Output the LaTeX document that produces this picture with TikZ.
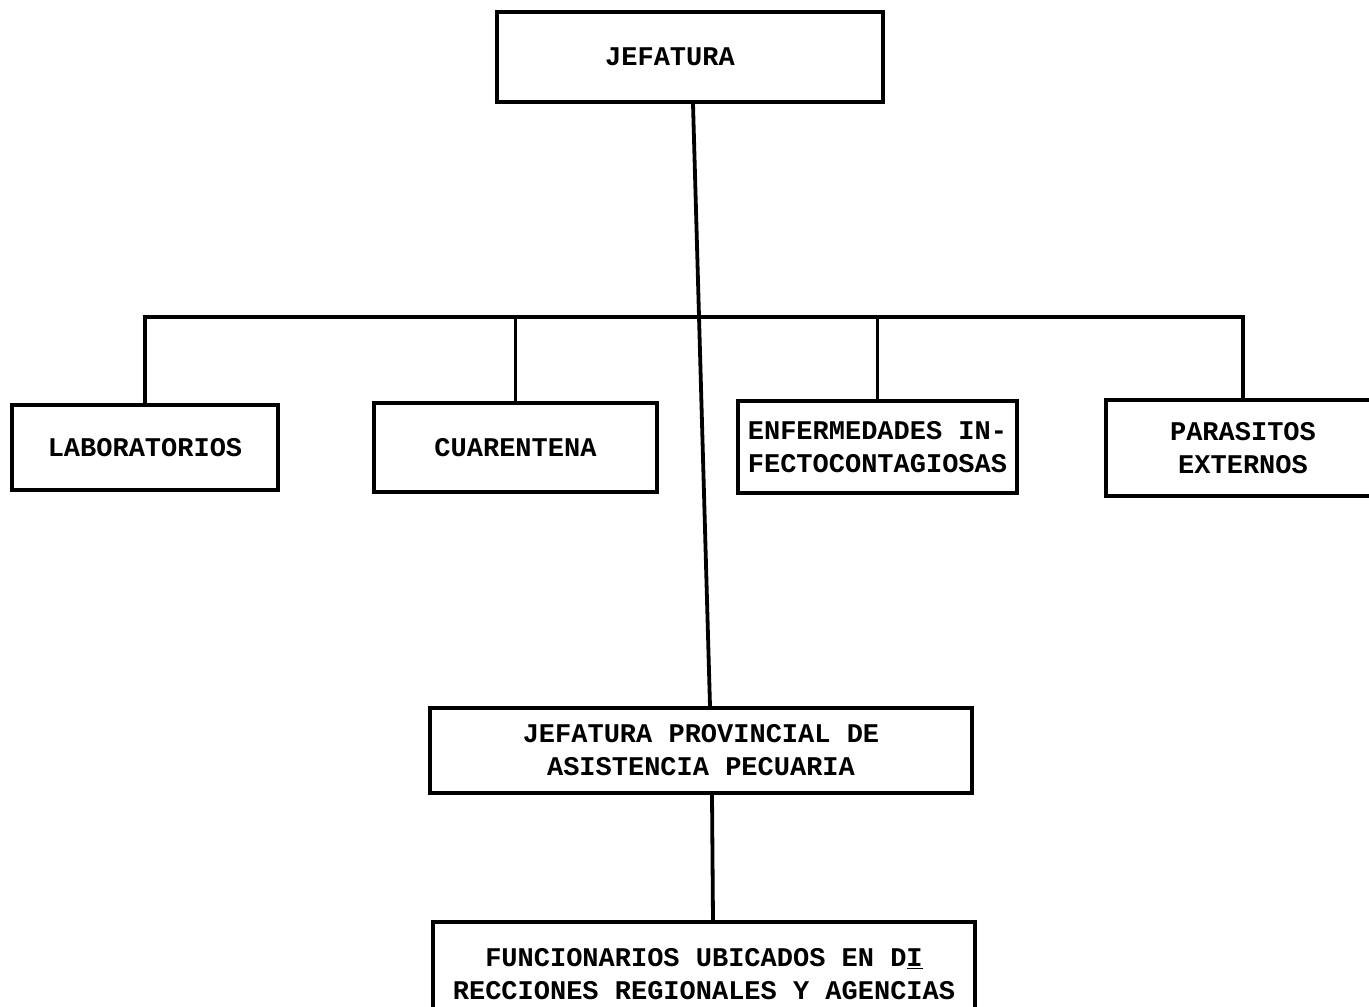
\documentclass[tikz,border=0pt]{standalone}
\usepackage{fontspec}
\setmonofont{Liberation Mono}
\begin{document}
\begin{tikzpicture}[x=1pt,y=-1pt,
  box/.style={draw=black,line width=3.5pt,rectangle,inner sep=0pt,align=center,
    font=\ttfamily\bfseries\fontsize{27}{33}\selectfont},
  link/.style={draw=black,line width=3.8pt}]
\useasboundingbox (0,0) rectangle (1369,1007);
\node[box,minimum width=386pt,minimum height=90pt] (jef) at (690,57) {\hspace*{-40pt}JEFATURA};
\node[box,minimum width=266pt,minimum height=85pt] (lab) at (145,447.5) {LABORATORIOS};
\node[box,minimum width=283pt,minimum height=89pt] (cua) at (515.5,447.5) {CUARENTENA};
\node[box,minimum width=279pt,minimum height=92pt] (enf) at (877.5,447) {ENFERMEDADES IN-\\FECTOCONTAGIOSAS};
\node[box,minimum width=274pt,minimum height=96pt] (par) at (1243,448) {PARASITOS\\EXTERNOS};
\node[box,minimum width=542pt,minimum height=85pt] (prov) at (701,750.5) {JEFATURA PROVINCIAL DE\\ASISTENCIA PECUARIA};
\node[box,minimum width=542pt,minimum height=104pt] (fun) at (704,974) {FUNCIONARIOS UBICADOS EN D\underline{I}\\RECCIONES REGIONALES Y AGENCIAS};
\coordinate (bus) at (0,317);
\draw[link] ([xshift=3pt]jef.south) -- ([xshift=9pt]prov.north);
\draw[link] (lab.north) |- (bus -| par.north) -- (par.north);
\draw[link] (cua.north) -- (cua.north |- bus);
\draw[link] (enf.north) -- (enf.north |- bus);
\draw[link] ([xshift=11pt]prov.south) -- ([xshift=9pt]fun.north);
\end{tikzpicture}
\end{document}
